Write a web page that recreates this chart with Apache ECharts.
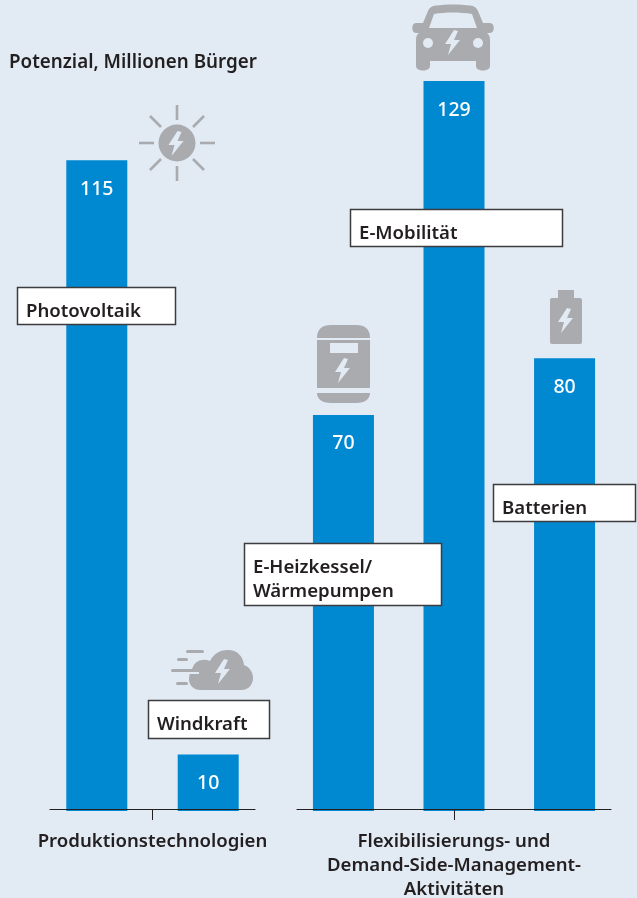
<!DOCTYPE html>
<html>
<head>
<meta charset="utf-8">
<style>
  html, body { margin: 0; padding: 0; background: #e2eaf4; }
  #chart { width: 637px; height: 898px; }
</style>
<script src="https://cdn.jsdelivr.net/npm/echarts@6/dist/echarts.min.js"></script>
</head>
<body>
<div id="chart"></div>
<script>
const productionNames = ["Photovoltaik", "Windkraft"];
const productionValues = [115, 10];
const flexNames = ["E-Heizkessel/ Wärmepumpen", "E-Mobilität", "Batterien"];
const flexValues = [70, 129, 80];
const groupLabels = [
  "Produktionstechnologien",
  "Flexibilisierungs- und\nDemand-Side-Management-\nAktivitäten",
];

const FONT = '"Noto Sans", sans-serif';
const GREY = "#a9abae";
const BG = "#e2eaf4";
const BLUE = "#0088d1";
const INK = "#231f20";

const chart = echarts.init(document.getElementById("chart"), null, { renderer: "canvas" });

// x axis counts bar slots, the padding keeps the baseline running past the outer bars
const xAxisFor = (gridIndex, max, label) => ({
  type: "value",
  gridIndex,
  min: -0.42,
  max: max + 0.42,
  offset: -2,
  z: 5,
  splitLine: { show: false },
  axisLine: { show: true, onZero: false, lineStyle: { color: "#231f20", width: 1.2 } },
  axisTick: { show: true, length: 11, customValues: [max / 2], lineStyle: { color: "#231f20", width: 1 } },
  axisLabel: {
    show: true,
    customValues: [max / 2],
    formatter: () => label,
    color: INK,
    fontFamily: FONT,
    fontWeight: 600,
    fontSize: 18.6,
    lineHeight: 24,
    margin: 21,
    hideOverlap: false,
    showMinLabel: true,
    showMaxLabel: true,
  },
});

const yAxisFor = (gridIndex) => ({
  type: "value",
  gridIndex,
  min: 0,
  max: 129,
  show: false,
});

const barSeries = (index, names, values) => ({
  type: "bar",
  xAxisIndex: index,
  yAxisIndex: index,
  barWidth: 61,
  itemStyle: { color: BLUE },
  label: {
    show: true,
    position: "insideTop",
    distance: 19,
    color: "#fff",
    fontFamily: FONT,
    fontWeight: 500,
    fontSize: 19.5,
    formatter: (p) => p.value[1],
  },
  data: values.map((v, i) => ({ name: names[i], value: [i, v] })),
});

const noteBox = (x, y, width, height, text) => ({
  type: "group",
  x,
  y,
  children: [
    {
      type: "rect",
      z: 20,
      shape: { x: 0.5, y: 0.5, width: width - 1, height: height - 1 },
      style: { fill: "#fff", stroke: "#3c3c3e", lineWidth: 1.5 },
    },
    {
      type: "text",
      z: 21,
      x: 9,
      y: 13,
      style: {
        text,
        fill: INK,
        font: `600 18.6px ${FONT}`,
        lineHeight: 24,
      },
    },
  ],
});

const greyPath = (pathData) => ({
  type: "path",
  shape: { pathData },
  style: { fill: GREY },
});

const bolt = (x, y) => ({
  type: "path",
  x,
  y,
  shape: { pathData: "M9 0 L0 14 L6 14 L3 25 L15 10 L9 10 L13 1 Z" },
  style: { fill: BG },
});

const icon = (x, y, children) => ({ type: "group", x, y, children });

const ray = (x1, y1, x2, y2) => ({
  type: "line",
  shape: { x1, y1, x2, y2 },
  style: { stroke: GREY, lineWidth: 2.6 },
});

const bgRect = (x, y, width, height) => ({
  type: "rect",
  shape: { x, y, width, height },
  style: { fill: BG },
});

const greyRect = (x, y, width, height) => ({
  type: "rect",
  shape: { x, y, width, height, r: 1.5 },
  style: { fill: GREY },
});

const sunIcon = icon(177, 143, [
  { type: "circle", shape: { cx: 0, cy: 0, r: 18.5 }, style: { fill: GREY } },
  ray(0, -38, 0, -23), ray(0, 23, 0, 38), ray(-38, 0, -23, 0), ray(23, 0, 38, 0),
  ray(-27, -27, -16, -16), ray(16, -16, 27, -27), ray(-27, 27, -16, 16), ray(16, 16, 27, 27),
  bolt(-8.5, -12),
]);

const carIcon = icon(412, 4, [
  greyPath("M11 19 L16 7 C18 3 20 2 24 1.5 C34 0 48 0 58 1.5 C62 2 64 3 66 7 L71 19 L78 19 C83 19 83 29 78 29 L75 29 Q78 31 78 36 L78 62 C78 68 64 68 64 62 L64 57 L18 57 L18 62 C18 68 4 68 4 62 L4 36 Q4 31 7 29 L4 29 C-1 29 -1 19 4 19 Z"),
  { type: "path", shape: { pathData: "M17 24 L65 24 L60 10 C48 8 34 8 22 10 Z" }, style: { fill: BG } },
  { type: "circle", shape: { cx: 16, cy: 39, r: 5 }, style: { fill: BG } },
  { type: "circle", shape: { cx: 66, cy: 39, r: 5 }, style: { fill: BG } },
  bolt(33, 26),
]);

const batteryIcon = icon(550, 290, [
  greyPath("M8 0 L24 0 L24 8 L30 8 Q32 8 32 10 L32 52 Q32 54 30 54 L2 54 Q0 54 0 52 L0 10 Q0 8 2 8 L8 8 Z"),
  bolt(8, 18),
]);

const heaterIcon = icon(317, 325, [
  greyPath("M0 13 C0 4 5 0 14 0 L39 0 C48 0 53 4 53 13 Z"),
  { type: "rect", shape: { x: 0, y: 15, width: 53, height: 48 }, style: { fill: GREY } },
  greyPath("M0 68 L53 68 C53 74 48 78 39 78 L14 78 C5 78 0 74 0 68 Z"),
  bgRect(13, 18, 28, 10),
  bolt(18, 33),
]);

const cloudIcon = icon(171, 650, [
  greyPath("M30 40 C22 40 18 35 18 29 C18 24 20 20 22 17 C24 11 32 8 39 11 C43 3 50 0 57 0 C66 0 72 6 73 15 C79 17 82 23 82 28 C82 35 77 40 71 40 Z"),
  greyRect(15, 0, 18, 3),
  greyRect(6, 8, 11, 3),
  bgRect(14, 22, 14, 2),
  greyRect(0, 19, 27, 3),
  greyRect(5, 32, 12, 3),
  bolt(44, 9),
]);

const icons = [sunIcon, carIcon, batteryIcon, heaterIcon, cloudIcon];

chart.setOption({
  animation: false,
  backgroundColor: BG,
  title: {
    text: "Potenzial, Millionen Bürger",
    left: 9,
    top: 53,
    padding: 0,
    textStyle: { color: INK, fontFamily: FONT, fontWeight: 600, fontSize: 18.8 },
  },
  grid: [
    // the last label line runs to the page edge, so the grid must not shrink for it
    { left: 50, width: 205, top: 81, height: 730, outerBoundsMode: "none" },
    { left: 297, width: 314, top: 81, height: 730, outerBoundsMode: "none" },
  ],
  xAxis: [
    xAxisFor(0, productionValues.length - 1, groupLabels[0]),
    xAxisFor(1, flexValues.length - 1, groupLabels[1]),
  ],
  yAxis: [yAxisFor(0), yAxisFor(1)],
  series: [
    barSeries(0, productionNames, productionValues),
    barSeries(1, flexNames, flexValues),
    {
      // the grey pictograms need svg paths, which only custom series can draw
      type: "custom",
      coordinateSystem: "none",
      silent: true,
      data: [0],
      renderItem: () => ({ type: "group", children: icons }),
    },
  ],
  graphic: [
    noteBox(17, 287, 159, 38, productionNames[0]),
    noteBox(148, 700, 122, 39, productionNames[1]),
    noteBox(244, 543, 198, 63, "E-Heizkessel/\nWärmepumpen"),
    noteBox(350, 209, 213, 38, flexNames[1]),
    noteBox(493, 484, 143, 38, flexNames[2]),
  ],
});
</script>
</body>
</html>
